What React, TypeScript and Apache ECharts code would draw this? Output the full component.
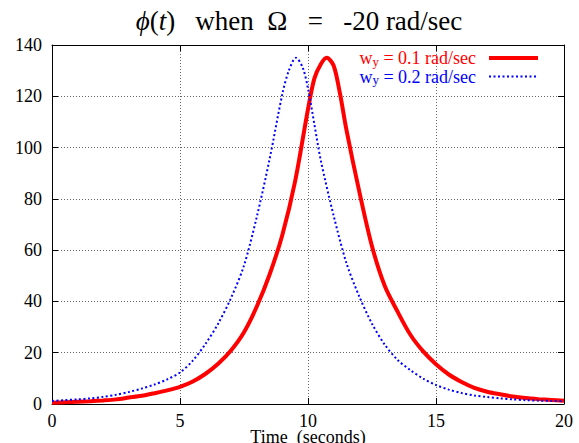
import React, { useEffect, useRef } from 'react';
import * as echarts from 'echarts';

const xTicks = [0, 5, 10, 15, 20];
const yTicks = [0, 20, 40, 60, 80, 100, 120, 140];

const redT = [0, 0.5, 1, 1.5, 2, 2.5, 3, 3.5, 4, 4.5, 5, 5.5, 6, 6.5, 7, 7.5, 8, 8.5, 9, 9.5, 10, 10.25, 10.5, 10.73, 11, 11.25, 11.5, 12, 12.5, 13, 13.5, 14, 14.5, 15, 15.5, 16, 16.5, 17, 17.5, 18, 18.5, 19, 19.5, 20];
const redV = [0.5, 0.7, 0.9, 1.1, 1.4, 1.8, 2.5, 3.2, 4.2, 5.3, 6.7, 8.8, 11.8, 15.8, 21, 28, 38, 50.5, 66, 87, 115, 127, 132.5, 135, 132, 121, 107, 83, 61.5, 46, 36, 27, 20.5, 15.5, 11.5, 8.6, 6.3, 4.8, 3.8, 2.9, 2.3, 1.9, 1.6, 1.3];

const blueT = [0, 0.5, 1, 1.5, 2, 2.5, 3, 3.5, 4, 4.5, 5, 5.5, 6, 6.5, 7, 7.5, 8, 8.5, 9, 9.25, 9.53, 9.8, 10, 10.25, 10.5, 11, 11.5, 12, 12.5, 13, 13.5, 14, 14.5, 15, 15.5, 16, 16.5, 17, 17.5, 18, 18.5, 19, 19.5, 20];
const blueV = [1.2, 1.5, 1.8, 2.2, 2.8, 3.6, 4.7, 6.0, 7.6, 9.6, 12.3, 16.9, 23.5, 31.5, 41.5, 54, 73, 95.5, 121, 130, 135, 131, 123, 109, 95, 73.5, 55, 42, 31.3, 23.1, 17.2, 13.2, 9.9, 7.4, 5.6, 4.3, 3.3, 2.7, 2.2, 1.8, 1.5, 1.3, 1.2, 1.1];

const redName = 'w_y = 0.1 rad/sec';
const blueName = 'w_y = 0.2 rad/sec';

const FONT = '"Liberation Serif", "Times New Roman", serif';

function zip(t: number[], v: number[]) {
  return t.map((x, i) => [x, v[i]]);
}

export default function App() {
  const ref = useRef<HTMLDivElement>(null);
  useEffect(() => {
    if (!ref.current) return;
    const chart = echarts.init(ref.current, undefined, { renderer: 'svg' });
    const gridLine = { show: true, lineStyle: { color: '#666', type: [1, 2], width: 1 } };
    const axisLine = { show: true, onZero: false, lineStyle: { color: '#000', width: 1 } };
    const tick = { show: true, inside: true, length: 6, lineStyle: { color: '#000' } };
    const legendRich = (color: string) => ({
      m: { fontFamily: FONT, fontSize: 18, color, lineHeight: 19 },
      e: { fontFamily: FONT, fontSize: 18, color, lineHeight: 19, padding: [0, 8, 0, 0] },
      s: { fontFamily: FONT, fontSize: 13, color, lineHeight: 9, verticalAlign: 'bottom' },
    });
    chart.setOption({
      animation: false,
      backgroundColor: '#fff',
      graphic: [
        {
          type: 'text',
          x: 299,
          y: 21,
          style: {
            text: '{i|ϕ}{n|(}{i|t}{n|)   when  Ω   =   -20 rad/sec}',
            align: 'center',
            verticalAlign: 'middle',
            fill: '#000',
            font: '27px "Liberation Serif", serif',
            rich: {
              i: { font: 'italic 27px "Liberation Serif", serif', fill: '#000' },
              n: { font: '27px "Liberation Serif", serif', fill: '#000' },
            },
          },
        },
      ],
      legend: {
        orient: 'vertical',
        right: 34,
        top: 44,
        align: 'right',
        itemWidth: 49,
        itemHeight: 12,
        itemGap: 0,
        itemStyle: { opacity: 0 },
        lineStyle: { width: 'inherit' },
        data: [
          { name: redName, textStyle: { color: '#ff0000', rich: legendRich('#ff0000') } },
          { name: blueName, textStyle: { color: '#0000ff', rich: legendRich('#0000ff') } },
        ],
        formatter: (name: string) => {
          const [a, b] = name.split('_y');
          return `{m|${a}}{s|y}{e|${b}}`;
        },
        selectedMode: false,
      },
      grid: { left: 52, right: 15, top: 45, bottom: 39, outerBoundsMode: 'none', containLabel: false },
      xAxis: [
        {
          type: 'value',
          min: xTicks[0],
          max: xTicks[xTicks.length - 1],
          interval: 5,
          position: 'bottom',
          axisLine,
          axisTick: tick,
          axisLabel: { color: '#000', fontFamily: FONT, fontSize: 18, margin: 8 },
          splitLine: gridLine,
          name: 'Time  (seconds)',
          nameLocation: 'middle',
          nameGap: 25,
          nameMoveOverlap: false,
          nameTextStyle: { color: '#000', fontFamily: FONT, fontSize: 18, lineHeight: 15 },
        },
        {
          type: 'value',
          min: xTicks[0],
          max: xTicks[xTicks.length - 1],
          interval: 5,
          position: 'top',
          axisLine,
          axisTick: tick,
          axisLabel: { show: false },
          splitLine: { show: false },
        },
      ],
      yAxis: [
        {
          type: 'value',
          min: yTicks[0],
          max: yTicks[yTicks.length - 1],
          interval: 20,
          position: 'left',
          axisLine,
          axisTick: tick,
          axisLabel: { color: '#000', fontFamily: FONT, fontSize: 18, margin: 10 },
          splitLine: gridLine,
        },
        {
          type: 'value',
          min: yTicks[0],
          max: yTicks[yTicks.length - 1],
          interval: 20,
          position: 'right',
          axisLine,
          axisTick: tick,
          axisLabel: { show: false },
          splitLine: { show: false },
        },
      ],
      series: [
        {
          name: redName,
          type: 'line',
          data: zip(redT, redV),
          symbol: 'none',
          smooth: 0.3,
          lineStyle: { color: '#ff0000', width: 4 },
          itemStyle: { color: '#ff0000' },
          z: 3,
        },
        {
          name: blueName,
          type: 'line',
          data: zip(blueT, blueV),
          symbol: 'none',
          smooth: 0.3,
          lineStyle: { color: '#0000ff', width: 2, type: [2, 2.5] },
          itemStyle: { color: '#0000ff' },
          z: 4,
        },
      ],
    });
    return () => chart.dispose();
  }, []);
  return <div ref={ref} style={{ width: 579, height: 443, position: 'absolute', left: 0, top: 0 }} />;
}
